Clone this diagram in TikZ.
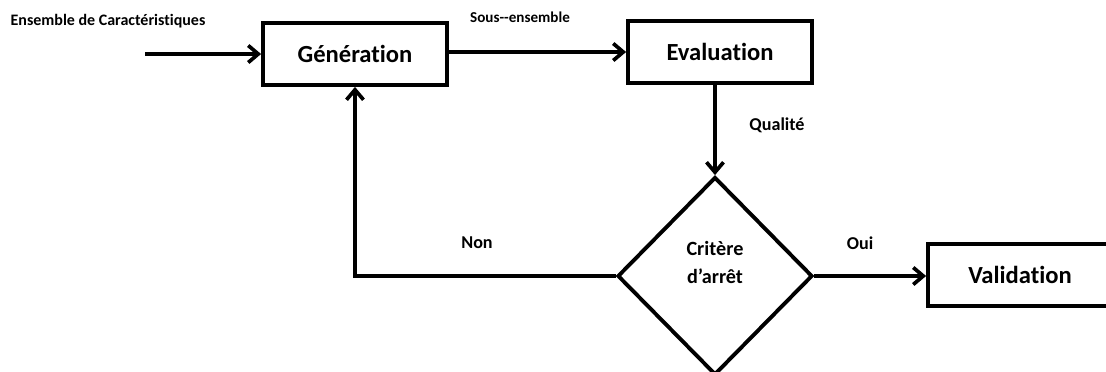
\documentclass[tikz,border=0pt]{standalone}
\usepackage{fontspec}
\setmainfont{Carlito}[Ligatures={NoCommon}]
\usepackage{tikz}
\usetikzlibrary{shapes.geometric, arrows.meta, positioning}
\usepackage{xcolor}
\definecolor{inkblack}{HTML}{000000}
\tikzset{
  stepbox/.style={rectangle, draw=inkblack, line width=2.2pt,
                  minimum width=3.68cm, minimum height=1.24cm,
                  align=center, font=\fontsize{14}{16}\selectfont\bfseries},
  testbox/.style={diamond, draw=inkblack, line width=2.2pt, aspect=1, inner sep=0pt,
                  minimum width=3.9cm, minimum height=3.96cm, text depth=0.54cm,
                  align=center, font=\fontsize{11.5}{16}\selectfont\bfseries},
  link/.style={-{Straight Barb[length=2mm,width=3.4mm,line width=2.1pt]},
               line width=2.1pt, draw=inkblack},
  smalllab/.style={font=\fontsize{8.6}{10}\selectfont\bfseries, inner sep=1pt},
  linklab/.style={font=\fontsize{10.3}{12}\selectfont\bfseries, inner sep=1pt},
}
\begin{document}
\begin{tikzpicture}[x=0.02cm, y=-0.02cm]
  \useasboundingbox (0,0) rectangle (1106,372);

  % --- Blocks ---
  \node[stepbox] (gen)  at (355, 54)  {Génération};
  \node[stepbox] (eval) at (720, 52)  {Evaluation};
  \node[testbox] (crit) at (715, 276) {Critère\\d’arrêt};
  \node[stepbox] (valid) at (1020, 275) {Validation};
  \coordinate (src) at (145, 54);

  % --- Flow ---
  \draw[link] (src) -- (gen.west);
  \draw[link] (gen.east |- eval.west) -- (eval.west);
  \draw[link] (eval.south -| crit.north) -- (crit.north);
  \draw[link] (crit.west) -| (gen.south);
  \draw[link] (crit.east) -- (valid.west |- crit.east);

  % --- Labels ---
  \node[smalllab, font=\fontsize{9.1}{10}\selectfont\bfseries] (inlab) at (108, 21) {Ensemble de Caractéristiques};
  \node[smalllab] (sublab) at (520, 17)  {Sous-{}-ensemble};
  \node[linklab]  (qlab)   at (777, 125) {Qualité};
  \node[linklab]  (nlab)   at (477, 243) {Non};
  \node[linklab]  (olab)   at (860, 243) {Oui};

\end{tikzpicture}
\end{document}
